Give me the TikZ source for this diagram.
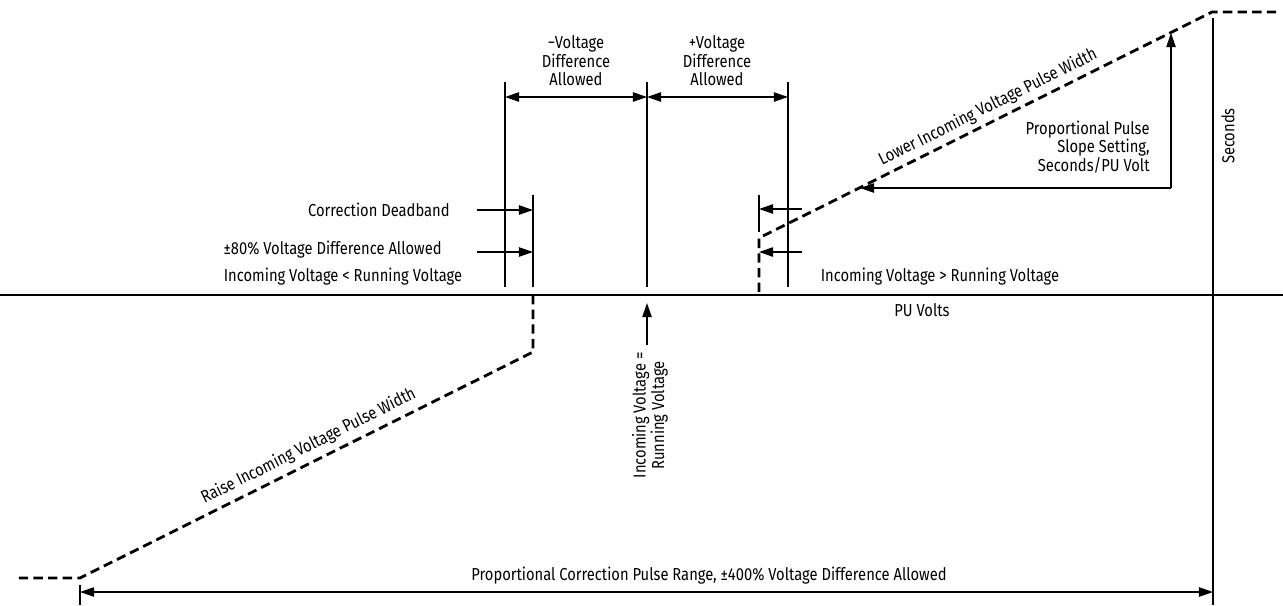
\documentclass[tikz,border=0pt]{standalone}
\usepackage{fontspec}
\setmainfont[FakeStretch=0.85]{Fira Sans}
\usetikzlibrary{arrows.meta}

\begin{document}
\begin{tikzpicture}[x=0.03cm,y=-0.03cm]
    \tikzstyle{every node} = [font=\fontsize{14.8}{15.8}\selectfont, inner sep=1pt]
    \tikzstyle{axis} = [line width=1.3pt]
    \tikzstyle{guide} = [line width=0.9pt]
    \tikzstyle{pulse} = [line width=2.4pt, dash pattern=on 8pt off 4.5pt]
    \tikzstyle{tip} = [-{Triangle[length=12pt,width=8pt]}, line width=1.1pt]
    \tikzstyle{dim} = [{Triangle[length=12pt,width=8pt]}-{Triangle[length=12pt,width=8pt]}, line width=1.1pt]
    \useasboundingbox (0,0) rectangle (1283,605);

    % place coordinates
    \coordinate (axisLeft) at (0,295);
    \coordinate (axisRight) at (1283,295);
    \coordinate (secTop) at (1213,18);
    \coordinate (secBottom) at (1213,605);
    \coordinate (negTop) at (505,82);
    \coordinate (negBottom) at (505,287);
    \coordinate (zeroTop) at (647,82);
    \coordinate (zeroBottom) at (647,287);
    \coordinate (posTop) at (788,82);
    \coordinate (posBottom) at (788,287);
    \coordinate (dbLeftTop) at (533,195);
    \coordinate (dbLeftBottom) at (533,287);
    \coordinate (dbRightTop) at (759,195);
    \coordinate (dbRightBottom) at (759,232);
    \coordinate (raiseStart) at (533,295);
    \coordinate (raiseCorner) at (533,352);
    \coordinate (raiseEnd) at (80,578);
    \coordinate (raiseFree) at (15,578);
    \coordinate (lowerStart) at (759,292);
    \coordinate (lowerCorner) at (759,238);
    \coordinate (lowerEnd) at (1212,12);
    \coordinate (lowerFree) at (1280,12);
    \coordinate (slopeCorner) at (1171,188);
    \coordinate (slopeUp) at (1171,33);
    \coordinate (slopeLeft) at (860,188);
    \coordinate (rangeTickTop) at (80,585);
    \coordinate (rangeTickBottom) at (80,605);
    \coordinate (rangeLeft) at (80,592);
    \coordinate (rangeRight) at (1213,592);
    \coordinate (equalFoot) at (647,345);
    \coordinate (equalTip) at (647,303);

    % place nodes
    \node[align=center] (negLabel) at (576,61) {−Voltage\\Difference\\Allowed};
    \node[align=center] (posLabel) at (717,61) {+Voltage\\Difference\\Allowed};
    \node[anchor=east] (deadbandLabel) at (451,210) {Correction Deadband};
    \node[anchor=east] (eightyLabel) at (443,250) {±80\% Voltage Difference Allowed};
    \node (lessLabel) at (343,277) {Incoming Voltage < Running Voltage};
    \node (moreLabel) at (940,277) {Incoming Voltage > Running Voltage};
    \node (puLabel) at (922,310) {PU Volts};
    \node[rotate=90] (secLabel) at (1228,136) {Seconds};
    \node[rotate=90, anchor=east, align=center] (equalLabel) at (650,351) {Incoming Voltage =\\Running Voltage};
    \node[anchor=east, align=right] (slopeLabel) at (1151,147) {Proportional Pulse\\Slope Setting,\\Seconds/PU Volt};
    \node (rangeLabel) at (709,576) {Proportional Correction Pulse Range, ±400\% Voltage Difference Allowed};

    % axes and guide lines
    \draw[axis] (axisLeft) -- (axisRight);
    \draw[guide] (secTop) -- (secBottom);
    \draw[guide] (negTop) -- (negBottom);
    \draw[guide] (zeroTop) -- (zeroBottom);
    \draw[guide] (posTop) -- (posBottom);
    \draw[guide] (dbLeftTop) -- (dbLeftBottom);
    \draw[guide] (dbRightTop) -- (dbRightBottom);
    \draw[guide] (rangeTickTop) -- (rangeTickBottom);

    % pulse width curves
    \draw[pulse] (raiseStart) -- (raiseCorner) -- (raiseEnd) -- (raiseFree);
    \draw[pulse] (lowerStart) -- (lowerCorner) -- (lowerEnd) -- (lowerFree);
    \path (raiseEnd) -- node[pos=0.52, sloped, above=5pt]{Raise Incoming Voltage Pulse Width} (raiseCorner);
    \path (lowerCorner) -- node[pos=0.52, sloped, above=4pt]{Lower Incoming Voltage Pulse Width} (lowerEnd);

    % Connections
    \draw[dim] (negTop |- 0,97) -- (zeroTop |- 0,97);
    \draw[dim] (zeroTop |- 0,97) -- (posTop |- 0,97);
    \draw[tip] (deadbandLabel.east -| 477,0) -- (deadbandLabel.east -| dbLeftTop);
    \draw[tip] (477,252) -- (dbLeftTop |- 0,252);
    \draw[tip] (802,209) -- (dbRightTop |- 0,209);
    \draw[tip] (802,252) -- (dbRightTop |- 0,252);
    \draw[tip] (equalFoot) -- (equalTip);
    \draw[tip] (slopeCorner) -- (slopeUp);
    \draw[tip] (slopeCorner) -- (slopeLeft);
    \draw[dim] (rangeLeft) -- (rangeRight);
\end{tikzpicture}
\end{document}
